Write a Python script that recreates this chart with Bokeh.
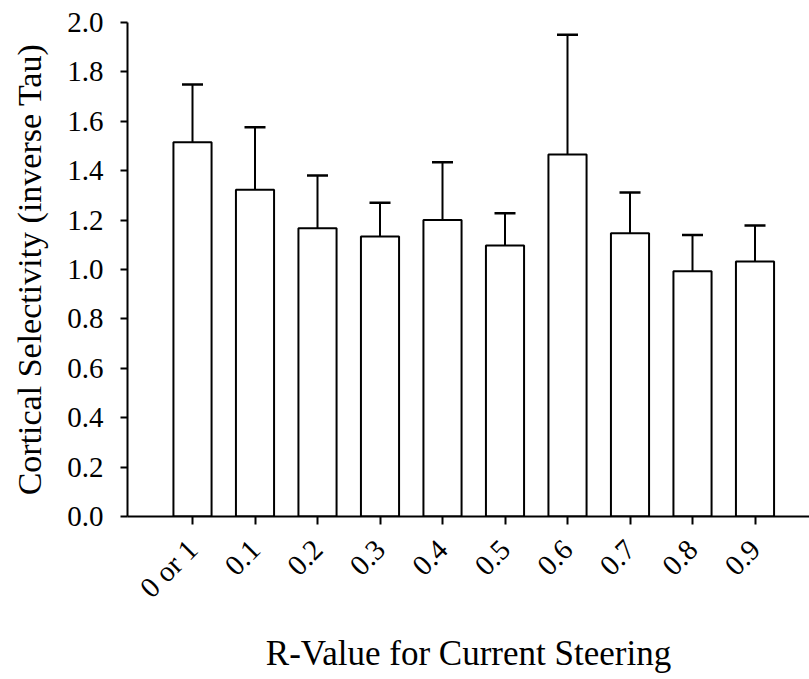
from bokeh.plotting import figure
from bokeh.models import Range1d, FixedTicker, NumeralTickFormatter, Whisker, TeeHead, ColumnDataSource
from bokeh.embed import file_html
from bokeh.resources import INLINE
import math

categories = ["0 or 1", "0.1", "0.2", "0.3", "0.4", "0.5", "0.6", "0.7", "0.8", "0.9"]
means = [1.515, 1.323, 1.167, 1.134, 1.200, 1.097, 1.466, 1.147, 0.993, 1.032]
upper = [1.749, 1.576, 1.381, 1.270, 1.434, 1.228, 1.950, 1.312, 1.140, 1.178]
y_ticks = [0.0, 0.2, 0.4, 0.6, 0.8, 1.0, 1.2, 1.4, 1.6, 1.8, 2.0]

xpos = list(range(1, len(categories) + 1))
src = ColumnDataSource(dict(x=xpos, top=means, upper=upper))

FONT = "Liberation Serif"

p = figure(width=809, height=679, output_backend="svg", toolbar_location=None,
           x_range=Range1d(-0.04, 10.872), y_range=Range1d(0, 2.0),
           min_border_left=127, min_border_right=0, min_border_top=22, min_border_bottom=163)
p.outline_line_color = None
p.xgrid.visible = False
p.ygrid.visible = False

p.vbar(x="x", top="top", bottom=0, width=0.61, source=src,
       fill_color="white", line_color="black", line_width=2)

w = Whisker(base="x", lower="top", upper="upper", source=src, dimension="height",
            line_color="black", line_width=2,
            upper_head=TeeHead(size=21, line_color="black", line_width=2.5),
            lower_head=None)
p.add_layout(w)

# y axis
ya = p.yaxis[0]
ya.ticker = FixedTicker(ticks=y_ticks)
ya.formatter = NumeralTickFormatter(format="0.0")
ya.minor_tick_line_color = None
ya.major_tick_in = 0
ya.major_tick_out = 7
ya.major_tick_line_width = 2
ya.axis_line_width = 2
ya.major_label_standoff = 17
ya.major_label_text_font = FONT
ya.major_label_text_font_size = "29px"
ya.major_label_text_color = "black"
ya.axis_label = "Cortical Selectivity (inverse Tau)"
ya.axis_label_text_font = FONT
ya.axis_label_text_font_size = "34px"
ya.axis_label_text_font_style = "normal"
ya.axis_label_text_color = "black"
ya.axis_label_standoff = 16

# x axis
xa = p.xaxis[0]
xa.ticker = FixedTicker(ticks=xpos)
xa.major_label_overrides = {x: c for x, c in zip(xpos, categories)}
xa.minor_tick_line_color = None
xa.major_tick_in = 0
xa.major_tick_out = 8
xa.major_tick_line_width = 2
xa.axis_line_width = 2
xa.major_label_orientation = math.pi / 4
xa.major_label_standoff = 20
xa.major_label_text_font = FONT
xa.major_label_text_font_size = "29px"
xa.major_label_text_color = "black"
xa.axis_label = "R-Value for Current Steering"
xa.axis_label_text_font = FONT
xa.axis_label_text_font_size = "35px"
xa.axis_label_text_font_style = "normal"
xa.axis_label_text_color = "black"
xa.axis_label_standoff = 16

open("out.html", "w").write(file_html(p, INLINE))
